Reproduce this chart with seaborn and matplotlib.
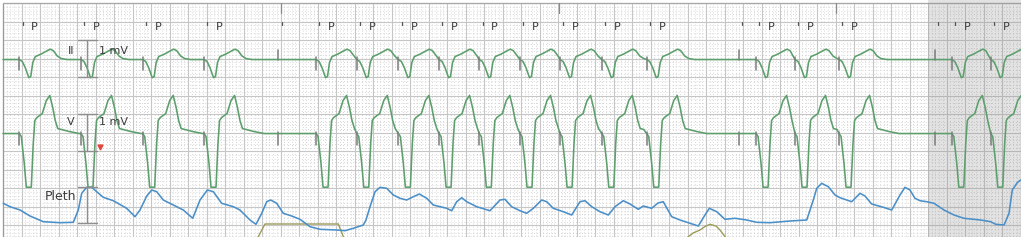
import numpy as np
import pandas as pd
import matplotlib
matplotlib.use("Agg")
import matplotlib.pyplot as plt
import seaborn as sns

# ---------------- data ----------------
# paced spikes that are followed by a captured complex (s)
beat_times = [0.176, 0.843, 1.510, 2.173, 3.384, 3.824, 4.274, 4.714, 5.149, 5.589,
              6.022, 6.473, 6.959, 8.141, 8.562, 9.038, 10.257, 10.678]
# spikes without a complex (s)
lone_spikes = [2.976, 7.957, 10.076]
# 3-second marks (s)
time_marks = [3.0, 6.0, 9.0]

# lead II complex: time after spike (s), amplitude (mV)
ii_dt = [0, 0.032, 0.065, 0.103, 0.124, 0.146, 0.173, 0.238, 0.303, 0.335, 0.368, 0.411, 0.454, 0.519]
ii_mv = [0, -0.05, -0.22, -0.49, -0.46, -0.08, 0.08, 0.15, 0.24, 0.28, 0.24, 0.095, 0.027, 0]

# lead V complex: time after spike (s), amplitude (mV, clipped at -1.45)
v_dt = [0, 0.022, 0.054, 0.076, 0.130, 0.151, 0.168, 0.189, 0.249, 0.292, 0.330, 0.362, 0.389,
        0.416, 0.454, 0.541, 0.649]
v_mv = [0, -0.08, -0.81, -1.45, -1.45, -0.27, 0.35, 0.43, 0.54, 0.89, 1.03, 0.70, 0.35,
        0.135, 0.11, 0.054, 0]

# plethysmogram (s, arbitrary units)
pleth_samples = [
    (0.003, 5.74), (0.076, 5.06), (0.184, 4.4), (0.292, 3.2), (0.436, 2.06), (0.616, 1.86),
    (0.760, 1.94), (0.814, 4.4), (0.851, 7.74), (0.905, 8.94), (0.959, 8.94), (1.013, 8.06),
    (1.084, 6.94), (1.192, 6.26), (1.337, 4.74), (1.427, 3.06), (1.481, 4.4), (1.554, 7.2),
    (1.608, 8.4), (1.662, 8.06), (1.733, 6.4), (1.841, 5.4), (1.949, 4.4), (2.051, 2.74),
    (2.130, 6.4), (2.209, 8.4), (2.274, 8.06), (2.364, 5.74), (2.490, 5.06), (2.562, 4.4),
    (2.635, 3.06), (2.670, 2.4), (2.735, 1.54), (2.797, 3.74), (2.851, 6.06), (2.894, 6.4),
    (2.959, 5.74), (3.030, 3.74), (3.121, 3.2), (3.211, 2.54), (3.319, 1.06), (3.427, 0.54),
    (3.608, 0.4), (3.697, 0.26), (3.787, 0.74), (3.895, 1.4), (3.924, 2.4), (3.968, 5.06),
    (4.022, 8.06), (4.076, 8.94), (4.148, 8.74), (4.220, 7.4), (4.292, 6.74), (4.364, 6.4),
    (4.436, 7.06), (4.501, 7.6), (4.581, 6.74), (4.652, 5.4), (4.797, 4.74), (4.851, 4.26),
    (4.905, 6.06), (4.959, 6.86), (5.013, 6.06), (5.121, 5.06), (5.265, 4.26), (5.373, 6.4),
    (5.427, 6.54), (5.499, 5.06), (5.589, 4.26), (5.661, 3.74), (5.733, 4.74), (5.824, 6.4),
    (5.878, 6.06), (5.949, 4.74), (6.057, 4.06), (6.148, 3.4), (6.238, 6.06), (6.292, 6.26),
    (6.365, 5.06), (6.454, 4.06), (6.544, 3.4), (6.616, 5.06), (6.706, 6.26), (6.778, 5.6),
    (6.868, 4.54), (6.922, 5.2), (7.013, 4.74), (7.081, 5.8), (7.138, 6.06), (7.229, 3.06),
    (7.319, 2.4), (7.427, 1.74), (7.517, 1.2), (7.589, 3.4), (7.636, 4.74), (7.716, 4.06),
    (7.805, 2.54), (7.914, 2.74), (8.040, 2.4), (8.148, 1.94), (8.292, 1.86), (8.508, 2.2),
    (8.689, 2.4), (8.760, 6.4), (8.797, 8.74), (8.851, 9.74), (8.922, 9.06), (8.995, 7.4),
    (9.049, 6.86), (9.121, 6.4), (9.175, 6.06), (9.265, 7.74), (9.319, 7.2), (9.391, 5.6),
    (9.517, 4.94), (9.608, 4.4), (9.697, 7.4), (9.751, 8.94), (9.805, 8.4), (9.859, 6.74),
    (9.914, 6.26), (9.986, 6.06), (10.065, 5.74), (10.173, 4.4), (10.281, 3.4), (10.389, 2.74),
    (10.569, 2.4), (10.678, 2.06), (10.732, 1.54), (10.822, 1.4), (10.876, 3.74), (10.911, 8.4),
    (10.965, 9.86), (11.001, 10.4),
]
# olive auxiliary traces (s, same units as pleth)
aux1_samples = [(2.735, -1.6), (2.760, -0.94), (2.832, 1.6), (3.625, 1.6), (3.679, -0.94), (3.697, -1.6)]
aux2_samples = [(7.362, -1.6), (7.409, -0.94), (7.460, -0.2), (7.535, 0.4), (7.589, 1.1),
                (7.643, 1.54), (7.708, 1.2), (7.751, 0.4), (7.806, -0.94), (7.827, -1.6)]

# ---------------- layout ----------------
PX_PER_S = 92.5
PX_PER_MV = 37.0
W, H = 1024, 241
X0_PX, Y0_PX = 3.0, 3.3          # grid origin in the image
T_END = 11.0
II_BASE, V_BASE = -1.52, -3.52
PLETH_BASE, PLETH_SCALE = -6.181, 0.1351

GREEN = "#5c9f6c"
BLUE = "#4b8fc8"
OLIVE = "#9d9c5a"
SPIKE = "#7c7c7c"
TXT = "#3c3c3c"

sns.set_style("white")
plt.rcParams["font.family"] = ["DejaVu Sans"]

fig = plt.figure(figsize=(W / 100, H / 100), dpi=100)
ax = fig.add_axes([0, 0, 1, 1])
ax.set_xlim(-X0_PX / PX_PER_S, (W - X0_PX) / PX_PER_S)
ax.set_ylim(-(H - Y0_PX) / PX_PER_MV, Y0_PX / PX_PER_MV)
ax.axis("off")

y_bottom = -(237 - Y0_PX) / PX_PER_MV

# minor dotted grid
for xm in np.arange(0, T_END + 1e-6, 0.04):
    if abs(xm / 0.2 - round(xm / 0.2)) > 1e-6:
        ax.plot([xm, xm], [0, y_bottom], color="#d2d2d2", lw=0.7, dashes=(0.9, 2.2), zorder=1)
for ym in np.arange(0, y_bottom - 1e-6, -0.1):
    if abs(ym / 0.5 - round(ym / 0.5)) > 1e-6:
        ax.plot([0, T_END], [ym, ym], color="#d2d2d2", lw=0.7, dashes=(0.9, 2.2), zorder=1)
# major grid
for xm in np.arange(0, T_END + 1e-6, 0.2):
    ax.plot([xm, xm], [0, y_bottom], color="#c6c6c6", lw=0.8, zorder=1.2)
for ym in np.arange(0, y_bottom, -0.5):
    ax.plot([0, T_END], [ym, ym], color="#c6c6c6", lw=0.8, zorder=1.2)
ax.plot([0, 0], [0, y_bottom], color="#9a9a9a", lw=0.9, zorder=1.3)
ax.plot([0, T_END], [0, 0], color="#a8a8a8", lw=0.9, zorder=1.3)
ax.plot([T_END, T_END], [0, y_bottom], color="#a8a8a8", lw=0.9, zorder=1.3)

# shaded final second
ax.axvspan(10.0, T_END, ymin=0, ymax=1, color="#8c8c8c", alpha=0.25, lw=0, zorder=1.5)


def build_trace(dts, mvs, beats, end):
    ts, vs = [0.0], [0.0]
    for i, s in enumerate(beats):
        nxt = beats[i + 1] if i + 1 < len(beats) else end + 1.0
        for d, m in zip(dts, mvs):
            if s + d < nxt - 0.012:
                ts.append(s + d)
                vs.append(m)
    if ts[-1] < end:
        ts.append(end)
        vs.append(0.0)
    return np.array(ts), np.array(vs)


ii_t, ii_v = build_trace(ii_dt, ii_mv, beat_times, T_END)
v_t, v_v = build_trace(v_dt, v_mv, beat_times, T_END)

df_ii = pd.DataFrame({"t": ii_t, "y": ii_v + II_BASE})
df_v = pd.DataFrame({"t": v_t, "y": v_v + V_BASE})
sns.lineplot(data=df_ii, x="t", y="y", ax=ax, color=GREEN, lw=1.15, sort=False, estimator=None, zorder=4)
sns.lineplot(data=df_v, x="t", y="y", ax=ax, color=GREEN, lw=1.15, sort=False, estimator=None, zorder=4)

pl = pd.DataFrame(pleth_samples, columns=["t", "a"])
pl["y"] = PLETH_BASE + pl["a"] * PLETH_SCALE
sns.lineplot(data=pl, x="t", y="y", ax=ax, color=BLUE, lw=1.15, sort=False, estimator=None, zorder=4)
for smp in (aux1_samples, aux2_samples):
    d = pd.DataFrame(smp, columns=["t", "a"])
    d["y"] = PLETH_BASE + d["a"] * PLETH_SCALE
    sns.lineplot(data=d, x="t", y="y", ax=ax, color=OLIVE, lw=1.0, sort=False, estimator=None, zorder=3.5)

# pacing spike marks
for s in beat_times:
    yi = np.interp(s, ii_t, ii_v) + II_BASE
    yv = np.interp(s, v_t, v_v) + V_BASE
    ax.plot([s, s], [yi + 0.08, yi - 0.27], color=SPIKE, lw=1.1, zorder=5)
    ax.plot([s, s], [yv + 0.05, yv - 0.32], color=SPIKE, lw=1.1, zorder=5)
for s in lone_spikes:
    ax.plot([s, s], [II_BASE + 0.25, II_BASE - 0.02], color=SPIKE, lw=1.1, zorder=5)
    ax.plot([s, s], [V_BASE + 0.03, V_BASE - 0.30], color=SPIKE, lw=1.1, zorder=5)

# annotation row
for s in beat_times + lone_spikes:
    ax.plot([s + 0.035, s + 0.035], [-0.50, -0.585], color="#555555", lw=0.9, zorder=5)
for s in beat_times:
    ax.text(s + 0.167, -0.635, "P", color=TXT, fontsize=8, ha="center", va="center", zorder=6)
for m in time_marks:
    ax.plot([m + 0.01, m + 0.01], [0, -0.262], color="#8a8a8a", lw=0.9, zorder=5)

# calibration brackets
cx, hw = 0.911, 0.102
for base in (II_BASE, V_BASE):
    top, bot = base + 0.535, base - 0.465
    ax.plot([cx, cx], [top, bot], color="#8e8e8e", lw=1.0, zorder=5)
    ax.plot([cx - hw, cx + hw], [top, top], color="#8e8e8e", lw=1.0, zorder=5)
    ax.plot([cx - hw, cx + hw], [bot, bot], color="#8e8e8e", lw=1.0, zorder=5)
ptop, pbot = -4.957, -5.946
ax.plot([cx, cx], [ptop, pbot], color="#8e8e8e", lw=1.0, zorder=5)
ax.plot([cx - hw, cx + hw], [ptop, ptop], color="#8e8e8e", lw=1.0, zorder=5)
ax.plot([cx - hw, cx + hw], [pbot, pbot], color="#8e8e8e", lw=1.0, zorder=5)

ax.text(0.735, II_BASE + 0.23, "II", color=TXT, fontsize=8, ha="center", va="center", zorder=6)
ax.text(1.041, II_BASE + 0.23, "1 mV", color=TXT, fontsize=8, ha="left", va="center", zorder=6)
ax.text(0.73, V_BASE + 0.30, "V", color=TXT, fontsize=8, ha="center", va="center", zorder=6)
ax.text(1.041, V_BASE + 0.30, "1 mV", color=TXT, fontsize=8, ha="left", va="center", zorder=6)
ax.text(0.627, -5.235, "Pleth", color=TXT, fontsize=9, ha="center", va="center", zorder=6)
ax.plot([1.05], [V_BASE - 0.37], marker="v", color="#e0463c", markersize=3.5, lw=0, zorder=6)

# white frame outside the strip
ax.axvspan(T_END + 0.003, 12, color="white", lw=0, zorder=10)
ax.axhspan(-10, y_bottom - 0.003, color="white", lw=0, zorder=10)

fig.savefig("out.png", dpi=100)
